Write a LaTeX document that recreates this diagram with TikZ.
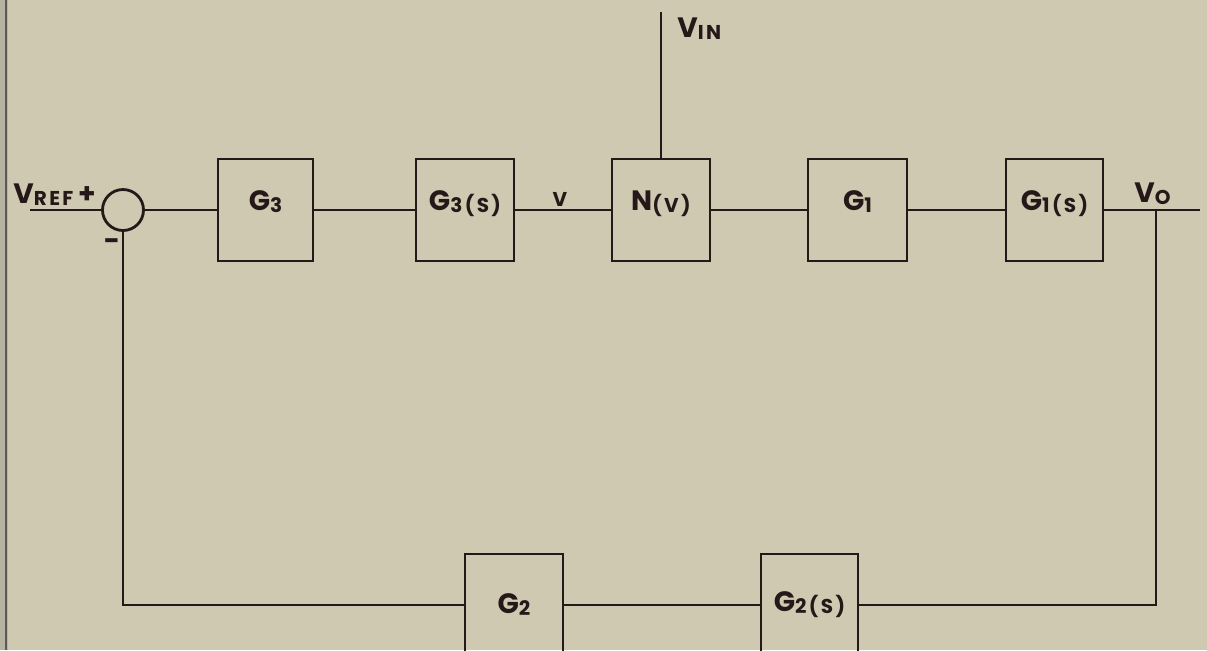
\documentclass[tikz,border=0pt]{standalone}
\usepackage{fontspec}
\setmainfont{Poppins}
\usetikzlibrary{positioning}
\definecolor{paper}{RGB}{206,201,176}
\definecolor{ink}{RGB}{38,24,24}
\newcommand{\lo}[1]{\raisebox{-1pt}{\fontsize{10}{10}\selectfont\addfontfeatures{LetterSpace=12}#1}}

\begin{document}
\begin{tikzpicture}[x=0.5pt,y=-0.5pt,line width=1.4pt,
  box/.style={draw=ink,minimum width=49pt,minimum height=51pt,inner sep=0pt,
    text=ink,font=\bfseries\fontsize{14}{14}\selectfont},
  block/.style={box,text height=9.5pt,text depth=9.5pt},
  sumpt/.style={circle,draw=ink,minimum size=20.5pt,inner sep=0pt},
  lbl/.style={inner sep=0pt,text=ink,font=\bfseries\fontsize{14}{14}\selectfont}]
  \clip (0,0) rectangle (1207,650);
  \fill[paper] (0,0) rectangle (1207,650);
  \fill[paper!70!gray] (0,0) rectangle (8,650);
  \draw[gray!70!black,line width=0.6pt] (6,0) -- (6,650);

  % forward path
  \node[sumpt] (sum) at (123,210) {};
  \node[block,minimum width=47.5pt] (g3) at (265.5,210) {G\lo{3}};
  \node[block] (g3s) at (465,210) {G\lo{3(S)}};
  \node[block] (n) at (661,210) {N\lo{(V)}};
  \node[block,minimum width=49.5pt] (g1) at (857.5,210) {G\lo{1}};
  \node[block,minimum width=48.5pt] (g1s) at (1054.5,210) {G\lo{1(S)}};

  % feedback path
  \node[box] (g2) at (514,605) {G\lo{2}};
  \node[box,minimum width=48.5pt] (g2s) at (809.5,605) {G\lo{2(S)}};

  \coordinate (in) at (30,210);
  \coordinate (out) at (1200,210);
  \coordinate (tap) at (1156,210);
  \coordinate (vin) at (661,12);

  \draw[ink] (in) -- (sum.west);
  \draw[ink] (sum.east) -- (g3.west);
  \draw[ink] (g3.east) -- (g3s.west);
  \draw[ink] (g3s.east) -- (n.west);
  \draw[ink] (n.east) -- (g1.west);
  \draw[ink] (g1.east) -- (g1s.west);
  \draw[ink] (g1s.east) -- (out);
  \draw[ink] (vin) -- (n.north);
  \draw[ink] (tap) |- (g2s.east);
  \draw[ink] (g2s.west) -- (g2.east);
  \draw[ink] (g2.west) -| (sum.south);

  % labels
  \node[lbl,anchor=base west] (vreflbl) at (12,203) {V\lo{REF}\,+};
  \node[lbl] (minus) at (112,245) {-};
  \node[lbl,anchor=base] (vlbl) at (560,204) {\lo{V}};
  \node[lbl,anchor=base west] (vinlbl) at (676,37) {V\lo{IN}};
  \node[lbl,anchor=base west] (volbl) at (1133,202) {V\lo{O}};
\end{tikzpicture}
\end{document}
